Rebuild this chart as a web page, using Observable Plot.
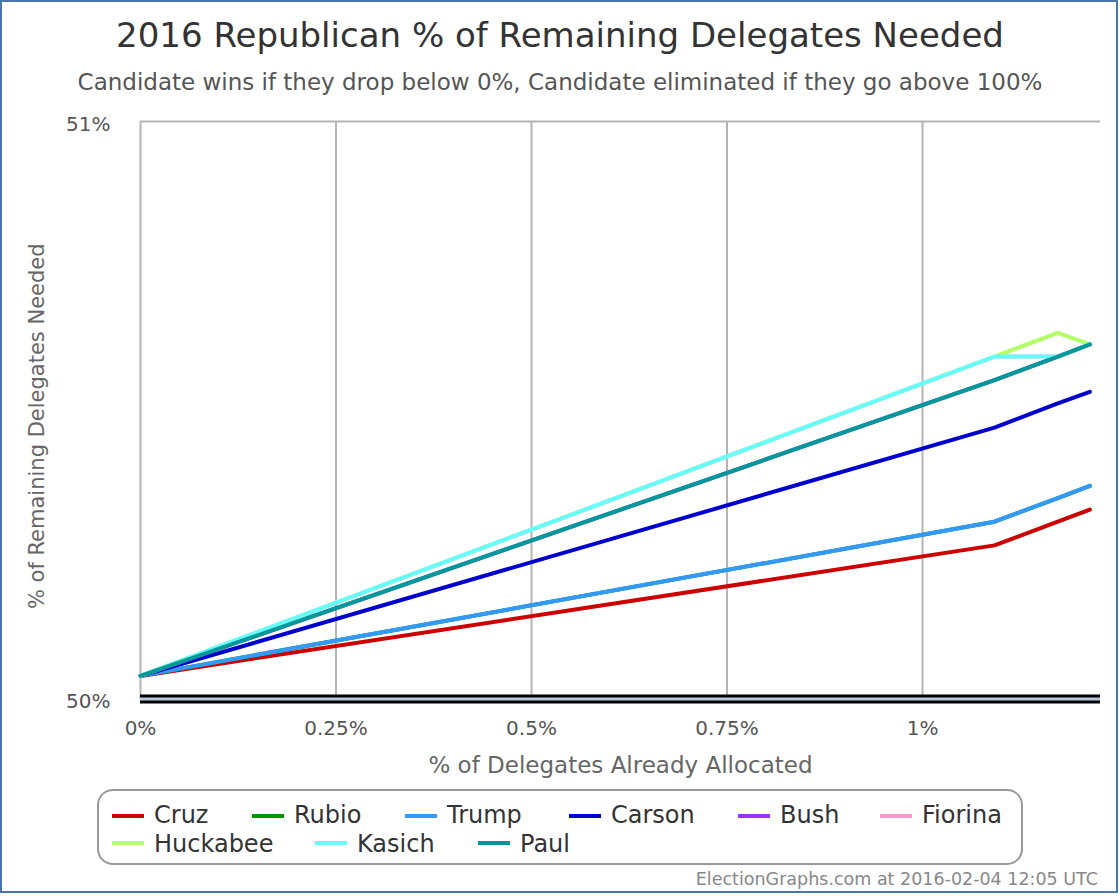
<!DOCTYPE html>
<html>
<head>
<meta charset="utf-8">
<script src="https://cdn.jsdelivr.net/npm/d3@7"></script>
<script src="https://cdn.jsdelivr.net/npm/@observablehq/plot@0.6"></script>
<style>
  html, body { margin: 0; padding: 0; background: #fff; }
  #wrap { position: relative; width: 1120px; height: 896px; font-family: "DejaVu Sans", sans-serif; overflow: hidden; }
  #frame { position: absolute; left: 0; top: 0; width: 1114px; height: 889px; border: 2px solid #4a76ad; }
  .t { position: absolute; left: 0; width: 1120px; text-align: center; line-height: 1; white-space: nowrap; }
  #chart { position: absolute; left: 0; top: 100px; }
  #legend { position: absolute; left: 97px; top: 789px; width: 922px; height: 72px; border: 2px solid #999; border-radius: 16px; }
  .li { position: absolute; font-size: 24px; line-height: 1; color: #333; white-space: nowrap; }
  .sw { position: absolute; width: 32px; height: 4px; }
  #footer { position: absolute; right: 22px; top: 871px; font-size: 17.5px; line-height: 1; color: #888; white-space: nowrap; }
</style>
</head>
<body>
<div id="wrap">
  <div id="frame"></div>
  <div class="t" id="title" style="top:18px;font-size:34px;color:#333;"></div>
  <div class="t" id="subtitle" style="top:71px;font-size:23px;color:#555;"></div>
  <div id="chart"></div>
  <div id="legend"></div>
  <div id="footer"></div>
</div>
<script>
// ---- Data ----
const titleText = "2016 Republican % of Remaining Delegates Needed";
const subtitleText = "Candidate wins if they drop below 0%, Candidate eliminated if they go above 100%";
const xLabel = "% of Delegates Already Allocated";
const yLabel = "% of Remaining Delegates Needed";
const footerText = "ElectionGraphs.com at 2016-02-04 12:05 UTC";

// % of delegates already allocated
const allocated = [0, 1.092, 1.173, 1.214];

const candidates = ["Cruz", "Rubio", "Trump", "Carson", "Bush", "Fiorina", "Huckabee", "Kasich", "Paul"];
const colors = ["#cc0000", "#009900", "#3399ff", "#0000cc", "#9933ff", "#ff99cc", "#b3ff66", "#66ffff", "#009999"];

// % of remaining delegates needed
const cruz     = [50.040, 50.266, 50.307, 50.328];
const rubio    = [50.040, 50.307, 50.348, 50.369];
const trump    = [50.040, 50.307, 50.348, 50.369];
const carson   = [50.040, 50.470, 50.512, 50.532];
const bush     = [50.040, 50.552, 50.593, 50.614];
const fiorina  = [50.040, 50.593, 50.593, 50.614];
const huckabee = [50.040, 50.593, 50.634, 50.614];
const kasich   = [50.040, 50.593, 50.593, 50.614];
const paul     = [50.040, 50.552, 50.593, 50.614];
const series = [cruz, rubio, trump, carson, bush, fiorina, huckabee, kasich, paul];

const xTicks = [0, 0.25, 0.5, 0.75, 1];
const xTickLabels = ["0%", "0.25%", "0.5%", "0.75%", "1%"];
const yTicks = [50, 51];
const yTickLabels = ["50%", "51%"];

// ---- Layout ----
document.getElementById("title").textContent = titleText;
document.getElementById("subtitle").textContent = subtitleText;
document.getElementById("footer").textContent = footerText;

const lineMarks = candidates.map((name, i) =>
  Plot.line(allocated.map((x, j) => ({x, y: series[i][j]})), {
    x: "x", y: "y", stroke: colors[i], strokeWidth: 4,
    strokeLinejoin: "round", strokeLinecap: "round"
  })
);

const chart = Plot.plot({
  width: 1120,
  height: 680,
  marginLeft: 140,
  marginRight: 20,
  marginTop: 21,
  marginBottom: 81.5,
  style: {fontFamily: "DejaVu Sans, sans-serif", background: "transparent", overflow: "visible"},
  x: {domain: [0, 1.2276]},
  y: {domain: [50, 51]},
  marks: [
    Plot.gridX(xTicks.slice(1), {stroke: "#b4b4b4", strokeWidth: 2, strokeOpacity: 1}),
    Plot.ruleX([0], {stroke: "#b4b4b4", strokeWidth: 2}),
    Plot.ruleY([51], {stroke: "#b4b4b4", strokeWidth: 2}),
    Plot.axisX({ticks: xTicks, tickFormat: (d) => xTickLabels[xTicks.indexOf(d)], tickSize: 0, tickPadding: 22, fontSize: 20, fill: "#555", label: null}),
    Plot.axisY({ticks: yTicks, tickFormat: (d) => yTickLabels[yTicks.indexOf(d)], tickSize: 0, tickPadding: 30, fontSize: 20, fill: "#555", label: null, dy: 3}),
    Plot.text([yLabel], {frameAnchor: "left", textAnchor: "middle", dx: -103, dy: 16, rotate: -90, fontSize: 21, fill: "#666", lineAnchor: "middle"}),
    Plot.text([xLabel], {frameAnchor: "bottom", textAnchor: "middle", dy: 67, fontSize: 23, fill: "#666", lineAnchor: "middle"}),
    ...lineMarks,
    Plot.ruleY([50], {stroke: "#000", strokeWidth: 9}),
    Plot.ruleY([50], {stroke: "#b8c8de", strokeWidth: 3})
  ]
});
document.getElementById("chart").appendChild(chart);

// Legend
const legendLayout = [
  {sw: 112, row: 0}, {sw: 252, row: 0}, {sw: 405, row: 0}, {sw: 569, row: 0}, {sw: 738, row: 0}, {sw: 880, row: 0},
  {sw: 112, row: 1}, {sw: 315, row: 1}, {sw: 478, row: 1}
];
const legend = document.getElementById("legend");
candidates.forEach((name, i) => {
  const L = legendLayout[i];
  const sw = document.createElement("div");
  sw.className = "sw";
  sw.style.background = colors[i];
  sw.style.left = (L.sw - 99) + "px";
  sw.style.top = (L.row === 0 ? 813.5 : 841) - 791 + "px";
  legend.appendChild(sw);
  const tx = document.createElement("div");
  tx.className = "li";
  tx.textContent = name;
  tx.style.left = (L.sw + 42 - 99) + "px";
  tx.style.top = (L.row === 0 ? 803 : 832) - 791 + "px";
  legend.appendChild(tx);
});
</script>
</body>
</html>
